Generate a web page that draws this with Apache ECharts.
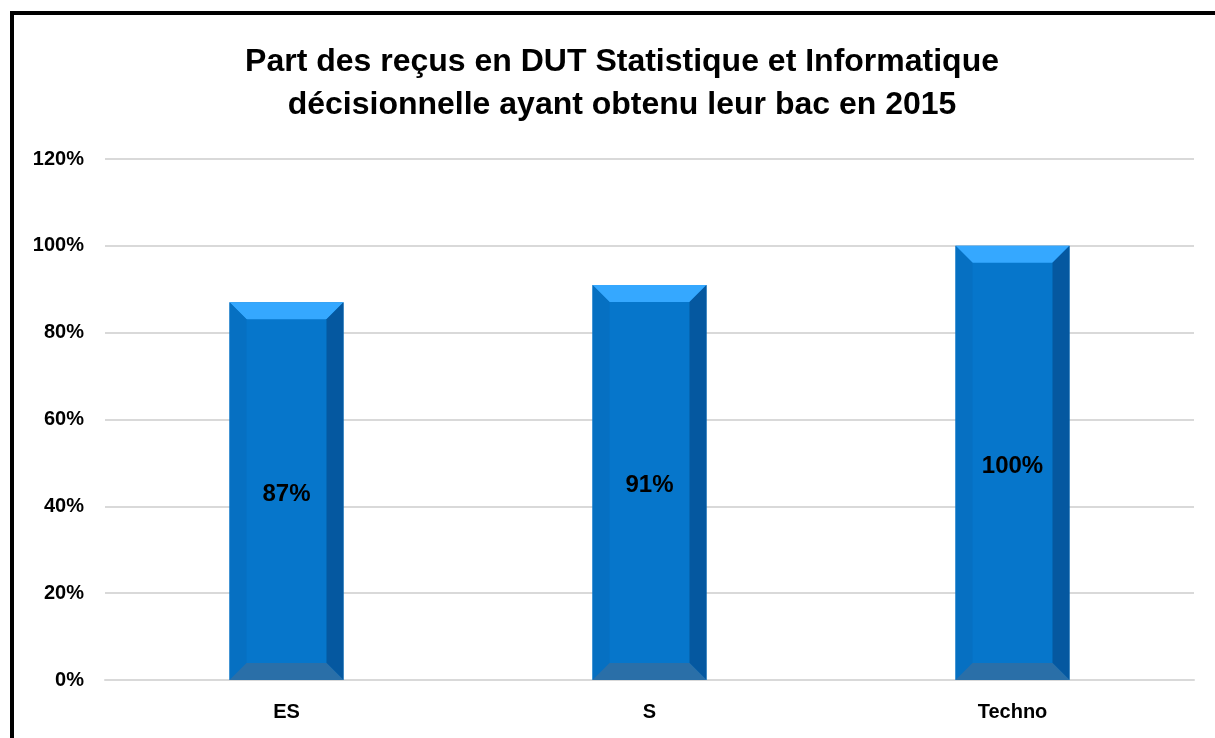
<!DOCTYPE html>
<html>
<head>
<meta charset="utf-8">
<script src="https://cdn.jsdelivr.net/npm/echarts@6/dist/echarts.min.js"></script>
<style>
html,body{margin:0;padding:0;background:#fff;}
#main{width:1215px;height:738px;}
</style>
</head>
<body>
<div id="main"></div>
<script>
var titleLines = ['Part des reçus en DUT Statistique et Informatique', 'décisionnelle ayant obtenu leur bac en 2015'];
var categories = ['ES', 'S', 'Techno'];
var values = [87, 91, 100];
var yTicks = {min: 0, max: 120, interval: 20};

var FONT = '"Liberation Sans", Arial, sans-serif';
var chart = echarts.init(document.getElementById('main'));

function renderBevel(params, api) {
  var idx = api.value(0);
  var val = api.value(1);
  var top = api.coord([idx, val]);
  var bot = api.coord([idx, 0]);
  var w = api.size([1, 0])[0] * 0.314;
  var x0 = top[0] - w / 2, x1 = top[0] + w / 2;
  var yt = top[1], yb = bot[1];
  var b = 17;
  function poly(pts, color) {
    return {type: 'polygon', shape: {points: pts}, style: {fill: color}};
  }
  return {
    type: 'group',
    children: [
      {type: 'rect', shape: {x: x0, y: yt, width: w, height: yb - yt}, style: {fill: '#0676CB'}},
      poly([[x0, yt], [x1, yt], [x1 - b, yt + b], [x0 + b, yt + b]], '#35A8FF'),
      poly([[x0, yt], [x0 + b, yt + b], [x0 + b, yb - b], [x0, yb]], '#0670C2'),
      poly([[x1, yt], [x1, yb], [x1 - b, yb - b], [x1 - b, yt + b]], '#0558A0'),
      poly([[x0, yb], [x0 + b, yb - b], [x1 - b, yb - b], [x1, yb]], '#2A6FA8'),
      {type: 'text', x: top[0], y: (yt + yb) / 2 + 3,
       style: {text: val + '%', fill: '#000', font: 'bold 24px ' + FONT, align: 'center', verticalAlign: 'middle'}}
    ]
  };
}

chart.setOption({
  animation: false,
  backgroundColor: '#fff',
  title: {
    text: titleLines.join('\n'),
    left: 617, top: 36, textAlign: 'center',
    textStyle: {fontFamily: FONT, fontWeight: 'bold', fontSize: 32, color: '#000', lineHeight: 43}
  },
  graphic: [{
    type: 'rect', shape: {x: 12, y: 13, width: 1400, height: 1000},
    style: {fill: 'none', stroke: '#000', lineWidth: 4}, silent: true
  }],
  grid: {left: 105, right: 21, top: 159, bottom: 58, containLabel: false},
  xAxis: {
    type: 'category', data: categories,
    axisLine: {show: true, lineStyle: {color: '#D9D9D9', width: 2}},
    axisTick: {show: false},
    axisLabel: {color: '#000', fontFamily: FONT, fontWeight: 'bold', fontSize: 20, margin: 22}
  },
  yAxis: {
    type: 'value', min: yTicks.min, max: yTicks.max, interval: yTicks.interval,
    axisLine: {show: false}, axisTick: {show: false},
    splitLine: {lineStyle: {color: '#D9D9D9', width: 2}},
    axisLabel: {color: '#000', fontFamily: FONT, fontWeight: 'bold', fontSize: 20, margin: 21,
      formatter: function (v) { return v + '%'; }}
  },
  series: [{
    type: 'custom',
    renderItem: renderBevel,
    encode: {x: 0, y: 1},
    data: values.map(function (v, i) { return [i, v]; }),
    z: 3
  }]
});
</script>
</body>
</html>
